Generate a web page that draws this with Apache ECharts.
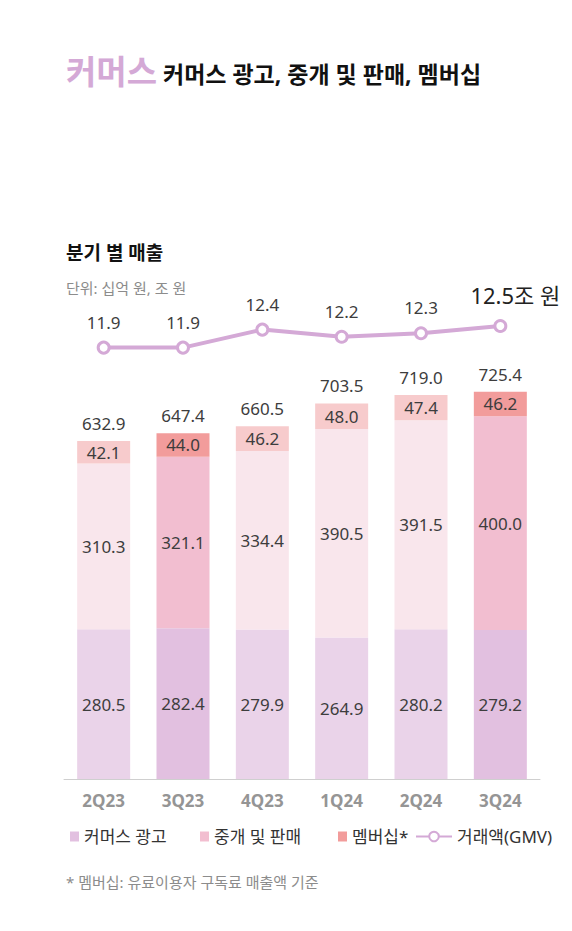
<!DOCTYPE html>
<html>
<head>
<meta charset="utf-8">
<script src="https://cdn.jsdelivr.net/npm/echarts@6/dist/echarts.min.js"></script>
<style>
  html, body { margin:0; padding:0; background:#fff; }
  #chart { width:572px; height:931px; }
</style>
</head>
<body>
<div id="chart"></div>
<script>
var quarters = ['2Q23','3Q23','4Q23','1Q24','2Q24','3Q24'];
var adRevenue = [280.5, 282.4, 279.9, 264.9, 280.2, 279.2];
var brokerage = [310.3, 321.1, 334.4, 390.5, 391.5, 400.0];
var membership = [42.1, 44.0, 46.2, 48.0, 47.4, 46.2];
var totals = [632.9, 647.4, 660.5, 703.5, 719.0, 725.4];
var gmv = [11.9, 11.9, 12.4, 12.2, 12.3, 12.5];
var highlight = [false, true, false, false, false, true];

(function() {
  var font = '"Noto Sans", "Noto Sans CJK KR", sans-serif';
  var purple = '#d4a9d6';
  var ink = '#3d3d3d';

  // light colour for ordinary quarters, strong one for the same quarter YoY
  function items(values, light, dark) {
    return values.map(function(v, i) {
      return { value: v, itemStyle: { color: highlight[i] ? dark : light } };
    });
  }

  var segLabel = { show:true, position:'inside', color:ink, fontSize:17, fontFamily:font,
    formatter:function(p){ return p.value.toFixed(1); } };

  var gmvData = gmv.map(function(v, i) {
    if (i < gmv.length - 1) return v;
    return { value: v, label: { formatter:function(){ return v.toFixed(1) + '조 원'; },
      fontSize:22, color:'#222', offset:[15, -3] } };
  });

  function t(text, left, top, size, color, weight) {
    return {text:text, left:left, top:top, padding:0,
      textStyle:{color:color, fontSize:size, fontWeight:weight, fontFamily:font}};
  }
  function lg(name, left, icon, w, h) {
    return {data:[icon ? {name:name, icon:icon} : name], left:left, top:828, padding:0,
      itemWidth:w, itemHeight:h, textStyle:{color:'#333', fontSize:17, fontFamily:font}};
  }

  var el = document.getElementById('chart');
  var chart = echarts.init(el, null, {renderer:'svg'});
  chart.setOption({
    animation:false,
    textStyle:{fontFamily:font},
    title:[
      t('커머스', 66, 55, 33, purple, 'bold'),
      t('커머스 광고, 중개 및 판매, 멤버십', 163, 62, 23, '#111', 'bold'),
      t('분기 별 매출', 66, 243, 19, '#111', 'bold'),
      t('단위: 십억 원, 조 원', 66, 280, 15, '#8c8c8c', 'normal'),
      t('* 멤버십: 유료이용자 구독료 매출액 기준', 66, 874, 15, '#8c8c8c', 'normal')
    ],
    legend:[
      lg('커머스 광고', 70, 'rect', 9, 10),
      lg('중개 및 판매', 200, 'rect', 9, 10),
      lg('멤버십*', 338, 'rect', 9, 10),
      lg('거래액(GMV)', 415, null, 36, 12)
    ],
    grid:[
      {left:64, width:476, top:245, bottom:152},
      {left:64, width:476, top:308, height:72}
    ],
    xAxis:[
      {type:'category', data:quarters, gridIndex:0,
        axisLine:{lineStyle:{color:'#cfcfcf', width:1}}, axisTick:{show:false},
        axisLabel:{color:'#959595', fontSize:17, fontWeight:'bold', margin:13, fontFamily:font}},
      {type:'category', data:quarters, gridIndex:1, show:false}
    ],
    yAxis:[
      {type:'value', gridIndex:0, min:0, max:1000, show:false, splitLine:{show:false}},
      {type:'value', gridIndex:1, min:11, max:13, show:false, splitLine:{show:false}}
    ],
    series:[
      {name:'커머스 광고', type:'bar', stack:'rev', barWidth:53, color:'#e2c0e0',
        data:items(adRevenue, '#ead3e9', '#e2c0e0'), label:segLabel},
      {name:'중개 및 판매', type:'bar', stack:'rev', color:'#f2bed0',
        data:items(brokerage, '#f9e6ec', '#f2bed0'), label:segLabel},
      {name:'멤버십*', type:'bar', stack:'rev', color:'#f29c9b',
        data:items(membership, '#f7cbcc', '#f29c9b'), label:segLabel},
      {name:'total', type:'bar', stack:'rev', data:totals.map(function(){ return 0; }),
        itemStyle:{color:'transparent'},
        label:{show:true, position:'top', distance:9, color:ink, fontSize:17, fontFamily:font,
          formatter:function(p){ return totals[p.dataIndex].toFixed(1); }}},
      {name:'거래액(GMV)', type:'line', xAxisIndex:1, yAxisIndex:1, data:gmvData,
        color:purple, lineStyle:{color:purple, width:4},
        symbol:'circle', symbolSize:11, itemStyle:{color:'#fff', borderColor:purple, borderWidth:3},
        label:{show:true, position:'top', distance:10, color:ink, fontSize:17, fontFamily:font,
          formatter:function(p){ return p.value.toFixed(1); }}}
    ]
  });
  window.addEventListener('resize', function(){ chart.resize(); });
})();
</script>
</body>
</html>
